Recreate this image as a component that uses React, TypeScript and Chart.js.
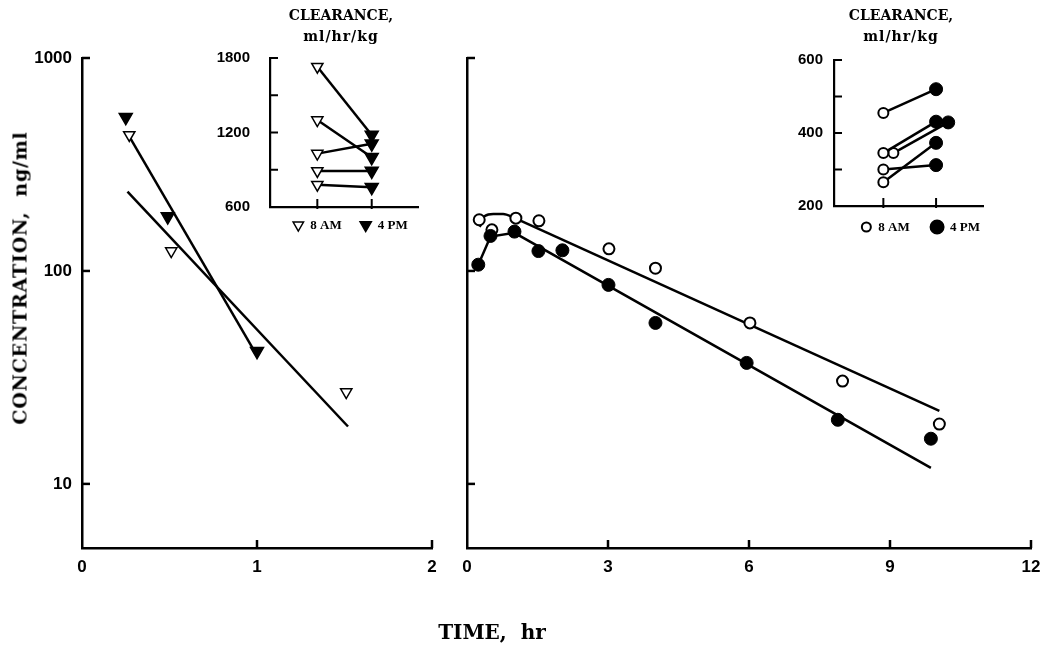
import React, { useEffect, useRef } from "react";
import { Chart, registerables } from "chart.js";

Chart.register(...registerables);

// ---------------- Data ----------------
// Left panel (time 0-2 h)
const leftTimes8AM = [0.27, 0.51, 1.51];
const leftConc8AM = [435, 124, 27];
const leftTimes4PM = [0.25, 0.49, 1.0];
const leftConc4PM = [527, 180, 42];
const leftFitTimes8AM = [0.26, 1.52];
const leftFitConc8AM = [236, 18.6];
const leftFitTimes4PM = [0.26, 1.0];
const leftFitConc4PM = [443, 40];

// Right panel (time 0-12 h)
const rightTimes8AM = [0.26, 0.53, 1.04, 1.53, 3.02, 4.01, 6.02, 7.99, 10.05];
const rightConc8AM = [174, 156, 177, 172, 127, 103, 57, 30.4, 19.1];
const rightTimes4PM = [0.24, 0.5, 1.01, 1.52, 2.03, 3.01, 4.01, 5.95, 7.89, 9.87];
const rightConc4PM = [107, 146, 153, 124, 125, 86, 57, 37, 20, 16.3];
const rightFitCurveTimes8AM = [0.27, 0.38, 0.56, 0.77, 1.02];
const rightFitCurveConc8AM = [161, 181, 185, 185, 177];
const rightFitLineTimes8AM = [1.02, 10.05];
const rightFitLineConc8AM = [177, 22];
const rightFitTimes4PM = [0.24, 0.5, 1.01, 9.87];
const rightFitConc4PM = [107, 145, 151, 11.9];

const concTicks = [10, 100, 1000];
const leftTimeTicks = [0, 1, 2];
const rightTimeTicks = [0, 3, 6, 9, 12];

// Insets: clearance, ml/hr/kg
const insetCategories = ["8 AM", "4 PM"];
const clearanceLeft8AM = [1730, 1300, 1030, 890, 780];
const clearanceLeft4PM = [1180, 1000, 1110, 890, 760];
const clearanceLeftSlot8AM = [1, 1, 1, 1, 1];
const clearanceLeftSlot4PM = [2, 2, 2, 2, 2];
const clearanceLeftTicks = [600, 900, 1200, 1500, 1800];
const clearanceLeftLabels = [600, 1200, 1800];

const clearanceRight8AM = [455, 345, 345, 300, 265];
const clearanceRight4PM = [520, 431, 429, 312, 373];
const clearanceRightSlot8AM = [1, 1, 1.19, 1, 1];
const clearanceRightSlot4PM = [2, 2, 2.23, 2, 2];
const clearanceRightTicks = [200, 300, 400, 500, 600];
const clearanceRightLabels = [200, 400, 600];

// ---------------- Layout helpers ----------------
const W = 1050;
const H = 651;
const SANS = '"Liberation Sans", Arial, sans-serif';
const SERIF = '"DejaVu Serif", serif';

type Area = { l: number; t: number; r: number; b: number };

function padFor(area: Area, yW: number, xH: number) {
  return { left: area.l - yW, top: area.t, right: W - area.r, bottom: H - area.b - xH };
}

const zip = (xs: number[], ys: number[]) => xs.map((x, i) => ({ x, y: ys[i] }));

const innerTicks = {
  id: "innerTicks",
  afterDraw(chart: any, _args: any, opts: any) {
    const ctx = chart.ctx;
    const a = chart.chartArea;
    ctx.save();
    ctx.strokeStyle = "#000";
    ctx.lineWidth = opts.width || 2;
    for (const spec of opts.specs || []) {
      const s = chart.scales[spec.scale];
      for (const v of spec.values) {
        const p = s.getPixelForValue(v);
        ctx.beginPath();
        if (s.isHorizontal()) {
          ctx.moveTo(p, a.bottom + (spec.below || 0));
          ctx.lineTo(p, a.bottom - spec.len);
        } else {
          ctx.moveTo(a.left, p);
          ctx.lineTo(a.left + spec.len, p);
        }
        ctx.stroke();
      }
    }
    ctx.restore();
  },
};

function drawMarker(ctx: any, kind: string, filled: boolean, cx: number, cy: number, r: number) {
  ctx.beginPath();
  if (kind === "triangle") {
    const s = Math.sin(Math.PI / 3) * r;
    ctx.moveTo(cx, cy + r);
    ctx.lineTo(cx - s, cy - r / 2);
    ctx.lineTo(cx + s, cy - r / 2);
    ctx.closePath();
  } else {
    ctx.arc(cx, cy, r, 0, Math.PI * 2);
  }
  ctx.fillStyle = filled ? "#000" : "#fff";
  ctx.fill();
  ctx.lineWidth = kind === "triangle" ? 1.5 : 2;
  ctx.strokeStyle = "#000";
  ctx.stroke();
}

const insetLegend = {
  id: "insetLegend",
  afterDraw(chart: any, _args: any, opts: any) {
    const ctx = chart.ctx;
    const xs = chart.scales.x;
    const y = chart.chartArea.bottom + opts.dy;
    ctx.save();
    for (const it of opts.items) {
      const cx = xs.getPixelForValue(it.slot);
      drawMarker(ctx, opts.kind, it.filled, cx + it.markerDx, y, it.r);
      ctx.fillStyle = "#000";
      ctx.font = 'bold 13px "Liberation Serif", serif';
      ctx.textAlign = "left";
      ctx.textBaseline = "middle";
      ctx.fillText(it.label, cx + it.textDx, y + 1);
    }
    ctx.restore();
  },
};

function mainConfig(opts: {
  area: Area;
  yW: number;
  xH: number;
  xMax: number;
  xTicks: number[];
  showYLabels: boolean;
  datasets: any[];
  innerX: number[];
}) {
  const { area, yW, xH } = opts;
  return {
    type: "scatter" as const,
    data: { datasets: opts.datasets },
    plugins: [innerTicks],
    options: {
      animation: false,
      responsive: false,
      events: [],
      layout: { padding: padFor(area, yW, xH) },
      plugins: {
        legend: { display: false },
        tooltip: { enabled: false },
        innerTicks: {
          width: 2.5,
          specs: [
            { scale: "x", values: opts.innerX, len: 8 },
            { scale: "y", values: concTicks, len: 8 },
          ],
        },
      },
      scales: {
        x: {
          type: "linear",
          min: 0,
          max: opts.xMax,
          afterBuildTicks: (s: any) => {
            s.ticks = opts.xTicks.map((v) => ({ value: v }));
          },
          afterFit: (s: any) => {
            s.height = xH;
          },
          grid: { display: false, drawTicks: false },
          border: { display: true, color: "#000", width: 2.5 },
          ticks: {
            color: "#000",
            padding: 9,
            maxRotation: 0,
            autoSkip: false,
            font: { family: SANS, size: 17, weight: "bold" },
            callback: (v: any) => String(v),
          },
        },
        y: {
          type: "logarithmic",
          min: 5,
          max: 1000,
          afterBuildTicks: (s: any) => {
            s.ticks = concTicks.map((v) => ({ value: v }));
          },
          afterFit: (s: any) => {
            s.width = yW;
          },
          grid: { display: false, drawTicks: false },
          border: { display: true, color: "#000", width: 2.5 },
          ticks: {
            display: opts.showYLabels,
            color: "#000",
            padding: 10,
            font: { family: SANS, size: 17, weight: "bold" },
            callback: (v: any) => String(v),
          },
        },
      },
    },
  };
}

function insetConfig(opts: {
  area: Area;
  yW: number;
  xMin: number;
  xMax: number;
  yMin: number;
  yMax: number;
  yTicks: number[];
  yLabels: number[];
  labelPad: number;
  datasets: any[];
  legend: any;
}) {
  const { area, yW } = opts;
  return {
    type: "scatter" as const,
    data: { datasets: opts.datasets },
    plugins: [innerTicks, insetLegend],
    options: {
      animation: false,
      responsive: false,
      events: [],
      layout: { padding: padFor(area, yW, 0) },
      plugins: {
        legend: { display: false },
        tooltip: { enabled: false },
        innerTicks: {
          width: 2,
          specs: [
            { scale: "x", values: [1, 2], len: 8, below: 2 },
            { scale: "y", values: opts.yTicks, len: 8 },
          ],
        },
        insetLegend: opts.legend,
      },
      scales: {
        x: {
          type: "linear",
          min: opts.xMin,
          max: opts.xMax,
          afterFit: (s: any) => {
            s.height = 0;
          },
          grid: { display: false, drawTicks: false },
          border: { display: true, color: "#000", width: 2.2 },
          ticks: { display: false },
        },
        y: {
          type: "linear",
          min: opts.yMin,
          max: opts.yMax,
          afterBuildTicks: (s: any) => {
            s.ticks = opts.yTicks.map((v) => ({ value: v }));
          },
          afterFit: (s: any) => {
            s.width = yW;
          },
          grid: { display: false, drawTicks: false },
          border: { display: true, color: "#000", width: 2.2 },
          ticks: {
            color: "#000",
            padding: opts.labelPad,
            font: { family: SANS, size: 15, weight: "bold" },
            callback: (v: any) => (opts.yLabels.includes(v) ? String(v) : ""),
          },
        },
      },
    },
  };
}

const fitLine = (data: any[], tension = 0) => ({
  data,
  showLine: true,
  borderColor: "#000",
  borderWidth: 2.5,
  pointRadius: 0,
  tension,
  cubicInterpolationMode: tension ? "monotone" : "default",
});

const triPoints = (data: any[], filled: boolean, r: number) => ({
  data,
  showLine: false,
  pointStyle: "triangle",
  pointRotation: 180,
  pointRadius: r,
  pointBackgroundColor: filled ? "#000" : "#fff",
  pointBorderColor: "#000",
  pointBorderWidth: 1.5,
});

const circPoints = (data: any[], filled: boolean, r: number) => ({
  data,
  showLine: false,
  pointStyle: "circle",
  pointRadius: r,
  pointBackgroundColor: filled ? "#000" : "#fff",
  pointBorderColor: "#000",
  pointBorderWidth: filled ? 1 : 2,
});

function pairDatasets(am: number[], pm: number[], slotAM: number[], slotPM: number[], kind: string) {
  return am.map((v, i) => ({
    data: [
      { x: slotAM[i], y: v },
      { x: slotPM[i], y: pm[i] },
    ],
    showLine: true,
    borderColor: "#000",
    borderWidth: 2.5,
    pointStyle: kind,
    pointRotation: kind === "triangle" ? 180 : 0,
    pointRadius: kind === "triangle" ? [6.5, 7.5] : [5, 6.5],
    pointBackgroundColor: ["#fff", "#000"],
    pointBorderColor: "#000",
    pointBorderWidth: kind === "triangle" ? 1.5 : [2, 1],
  }));
}

export default function App() {
  const c1 = useRef<HTMLCanvasElement>(null);
  const c2 = useRef<HTMLCanvasElement>(null);
  const c3 = useRef<HTMLCanvasElement>(null);
  const c4 = useRef<HTMLCanvasElement>(null);

  useEffect(() => {
    const charts: Chart[] = [];
    charts.push(
      new Chart(
        c1.current as HTMLCanvasElement,
        mainConfig({
          area: { l: 82, t: 58, r: 432, b: 548 },
          yW: 82,
          xH: 30,
          xMax: 2,
          xTicks: leftTimeTicks,
          showYLabels: true,
          innerX: [1, 2],
          datasets: [
            triPoints(zip(leftTimes4PM, leftConc4PM), true, 7.5),
            triPoints(zip(leftTimes8AM, leftConc8AM), false, 6.5),
            fitLine(zip(leftFitTimes4PM, leftFitConc4PM)),
            fitLine(zip(leftFitTimes8AM, leftFitConc8AM)),
          ],
        }) as any
      )
    );
    charts.push(
      new Chart(
        c2.current as HTMLCanvasElement,
        mainConfig({
          area: { l: 467, t: 58, r: 1031, b: 548 },
          yW: 0,
          xH: 30,
          xMax: 12,
          xTicks: rightTimeTicks,
          showYLabels: false,
          innerX: [3, 6, 9, 12],
          datasets: [
            circPoints(zip(rightTimes4PM, rightConc4PM), true, 6.5),
            circPoints(zip(rightTimes8AM, rightConc8AM), false, 5.5),
            fitLine(zip(rightFitTimes4PM, rightFitConc4PM)),
            fitLine(zip(rightFitCurveTimes8AM, rightFitCurveConc8AM), 0.4),
            fitLine(zip(rightFitLineTimes8AM, rightFitLineConc8AM)),
          ],
        }) as any
      )
    );
    charts.push(
      new Chart(
        c3.current as HTMLCanvasElement,
        insetConfig({
          area: { l: 270, t: 58, r: 418, b: 207 },
          yW: 60,
          xMin: 0.13,
          xMax: 2.851,
          yMin: 600,
          yMax: 1800,
          yTicks: clearanceLeftTicks,
          yLabels: clearanceLeftLabels,
          labelPad: 20,
          datasets: pairDatasets(clearanceLeft8AM, clearanceLeft4PM, clearanceLeftSlot8AM, clearanceLeftSlot4PM, "triangle"),
          legend: {
            kind: "triangle",
            dy: 18,
            items: [
              { slot: 1, label: insetCategories[0], filled: false, r: 6, markerDx: -19, textDx: -7 },
              { slot: 2, label: insetCategories[1], filled: true, r: 6.5, markerDx: -6, textDx: 6 },
            ],
          },
        }) as any
      )
    );
    charts.push(
      new Chart(
        c4.current as HTMLCanvasElement,
        insetConfig({
          area: { l: 834, t: 60, r: 983, b: 206 },
          yW: 40,
          xMin: 0.064,
          xMax: 2.89,
          yMin: 200,
          yMax: 600,
          yTicks: clearanceRightTicks,
          yLabels: clearanceRightLabels,
          labelPad: 11,
          datasets: pairDatasets(clearanceRight8AM, clearanceRight4PM, clearanceRightSlot8AM, clearanceRightSlot4PM, "circle"),
          legend: {
            kind: "circle",
            dy: 21,
            items: [
              { slot: 1, label: insetCategories[0], filled: false, r: 4.5, markerDx: -17, textDx: -5 },
              { slot: 2, label: insetCategories[1], filled: true, r: 6.5, markerDx: 1, textDx: 14 },
            ],
          },
        }) as any
      )
    );
    return () => charts.forEach((c) => c.destroy());
  }, []);

  const canvasStyle: React.CSSProperties = { position: "absolute", left: 0, top: 0 };
  const insetTitle = (cx: number) => (
    <div
      style={{
        position: "absolute",
        left: cx - 80,
        width: 160,
        top: 5,
        textAlign: "center",
        font: `bold 14px ${SERIF}`,
        lineHeight: "21px",
        color: "#000",
      }}
    >
      <div>CLEARANCE,</div>
      <div style={{ letterSpacing: "1px" }}>ml/hr/kg</div>
    </div>
  );

  return (
    <div
      style={{
        position: "absolute",
        left: 0,
        top: 0,
        width: W,
        height: H,
        background: "#fff",
        overflow: "hidden",
      }}
    >
      <canvas ref={c1} width={W} height={H} style={canvasStyle} />
      <canvas ref={c2} width={W} height={H} style={canvasStyle} />
      <canvas ref={c3} width={W} height={H} style={canvasStyle} />
      <canvas ref={c4} width={W} height={H} style={canvasStyle} />
      {insetTitle(341)}
      {insetTitle(901)}
      <div
        style={{
          position: "absolute",
          left: 20,
          top: 278,
          transform: "translate(-50%, -50%) rotate(-90deg)",
          font: `bold 19px ${SERIF}`,
          letterSpacing: "0.8px",
          whiteSpace: "pre",
          lineHeight: 1,
          color: "#000",
        }}
      >
        {"CONCENTRATION,  ng/ml"}
      </div>
      <div
        style={{
          position: "absolute",
          left: 492,
          top: 632,
          transform: "translate(-50%, -50%)",
          font: `bold 20px ${SERIF}`,
          whiteSpace: "pre",
          lineHeight: 1,
          color: "#000",
        }}
      >
        {"TIME,  hr"}
      </div>
    </div>
  );
}
